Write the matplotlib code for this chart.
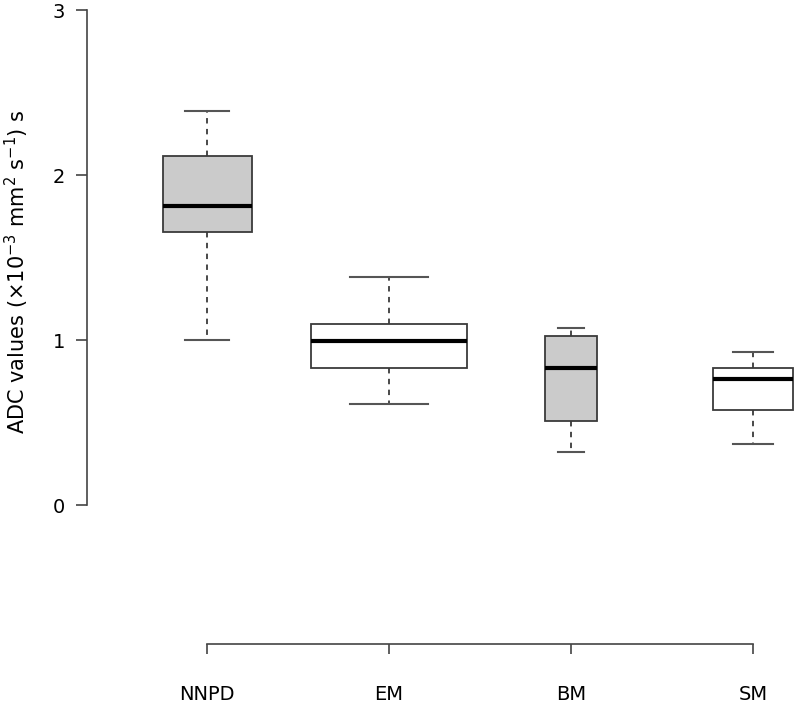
import matplotlib.pyplot as plt

groups = ["NNPD", "EM", "BM", "SM"]
whis_lo = [1.00, 0.61, 0.32, 0.37]
q1 = [1.655, 0.83, 0.51, 0.576]
median = [1.81, 0.994, 0.83, 0.764]
q3 = [2.115, 1.097, 1.024, 0.83]
whis_hi = [2.39, 1.38, 1.07, 0.927]
fills = ["#cbcbcb", "white", "#cbcbcb", "white"]
box_widths = [0.49, 0.86, 0.29, 0.44]

stats = []
for i, g in enumerate(groups):
    stats.append({"label": g, "whislo": whis_lo[i], "q1": q1[i], "med": median[i],
                  "q3": q3[i], "whishi": whis_hi[i], "fliers": []})

fig = plt.figure(figsize=(7.97, 7.09), dpi=100)
ax = fig.add_axes([87/797, 65/709, 710/797, 634/709])

pos = [1, 2, 3, 4]
bp = ax.bxp(stats, positions=pos, widths=box_widths,
            capwidths=[w/2 for w in box_widths], patch_artist=True,
            showfliers=False,
            boxprops=dict(edgecolor="#3a3a3a", linewidth=1.3),
            whiskerprops=dict(color="#3a3a3a", linewidth=1.3, linestyle=(0, (3, 3))),
            capprops=dict(color="#555555", linewidth=1.5),
            medianprops=dict(color="black", linewidth=3, solid_capstyle="butt"))
for patch, c in zip(bp["boxes"], fills):
    patch.set_facecolor(c)

ax.set_xlim(0.34, 4.242)
ax.set_ylim(-0.842, 3)

for s in ["top", "right"]:
    ax.spines[s].set_visible(False)
ax.spines["left"].set_bounds(0, 3)
ax.spines["bottom"].set_bounds(1, 4)
for s in ["left", "bottom"]:
    ax.spines[s].set_color("#444444")
    ax.spines[s].set_linewidth(1.2)

ax.set_yticks([0, 1, 2, 3])
ax.set_xticks(pos)
ax.set_xticklabels(groups)
ax.tick_params(axis="y", length=8, width=1.2, color="#444444", pad=8, labelsize=14)
ax.tick_params(axis="x", length=7.5, width=1.2, color="#444444", pad=22, labelsize=14)

ax.set_ylabel(r"ADC values (×10$^{-3}$ mm$^{2}$ s$^{-1}$) s", fontsize=15)
ax.yaxis.label.set_va("center")
ax.yaxis.set_label_coords((17 - 87)/710, (644 - 272)/634)

plt.savefig("out.png", dpi=100)
